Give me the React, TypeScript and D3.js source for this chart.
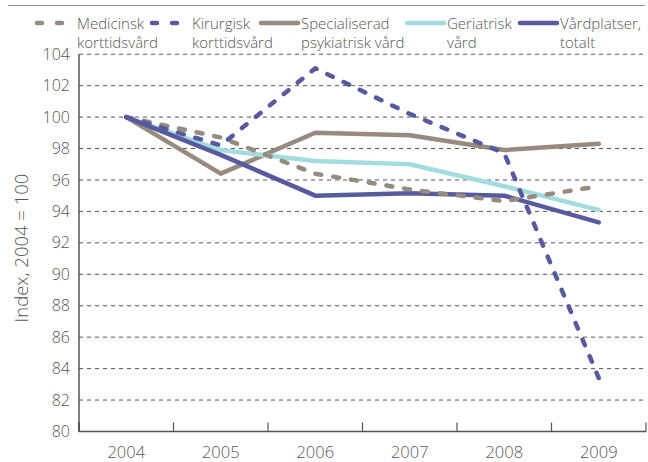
import React from "react";
import * as d3 from "d3";

const years = ["2004", "2005", "2006", "2007", "2008", "2009"];
const yTicks = [80, 82, 84, 86, 88, 90, 92, 94, 96, 98, 100, 102, 104];

const medicinsk = [100, 98.7, 96.4, 95.4, 94.65, 95.6];
const kirurgisk = [100, 98.2, 103.1, 100.2, 97.7, 83.4];
const specialiserad = [100, 96.4, 99.0, 98.85, 97.9, 98.3];
const geriatrisk = [100, 97.9, 97.2, 97.0, 95.6, 94.1];
const vardplatser = [100, 97.6, 95.0, 95.15, 95.0, 93.3];

const legendLabels = [
  ["Medicinsk", "korttidsvård"],
  ["Kirurgisk", "korttidsvård"],
  ["Specialiserad", "psykiatrisk vård"],
  ["Geriatrisk", "vård"],
  ["Vårdplatser,", "totalt"],
];

const GRAY = "#978a7e";
const BLUE = "#585a9e";
const CYAN = "#a2dcdf";
const TEXT = "#555555";
const FONT = "'Open Sans', Lato, sans-serif";

type Series = { name: string; values: number[]; color: string; dashed: boolean };

const series: Series[] = [
  { name: "Medicinsk korttidsvård", values: medicinsk, color: GRAY, dashed: true },
  { name: "Kirurgisk korttidsvård", values: kirurgisk, color: BLUE, dashed: true },
  { name: "Specialiserad psykiatrisk vård", values: specialiserad, color: GRAY, dashed: false },
  { name: "Geriatrisk vård", values: geriatrisk, color: CYAN, dashed: false },
  { name: "Vårdplatser, totalt", values: vardplatser, color: BLUE, dashed: false },
];

const drawOrder = [2, 3, 4, 0, 1];
const legendX = [35, 150, 259, 405, 518];

export default function App() {
  const left = 79;
  const right = 646;
  const top = 54.2;
  const bottom = 431.5;

  const x = d3.scaleBand<string>().domain(years).range([left, right]);
  const y = d3.scaleLinear().domain([80, 104]).range([bottom, top]);
  const line = d3
    .line<number>()
    .x((_, i) => (x(years[i]) as number) + x.bandwidth() / 2)
    .y((d) => y(d));

  const boundaries = years.map((yr) => (x(yr) as number) + x.bandwidth());

  return (
    <svg
      width={648}
      height={462}
      style={{ position: "absolute", left: 0, top: 0, background: "#fff" }}
      fontFamily={FONT}
    >
      <line x1={8} x2={645} y1={5.5} y2={5.5} stroke="#9a8b80" strokeWidth={1.2} />

      {/* legend */}
      {series.map((s, i) => (
        <g key={s.name}>
          <line
            x1={legendX[i] + 2}
            x2={legendX[i] + 39}
            y1={23}
            y2={23}
            stroke={s.color}
            strokeWidth={4.5}
            strokeLinecap="round"
            strokeDasharray={s.dashed ? "5,15" : undefined}
          />
          <text x={legendX[i] + 42} y={28.5} fontSize={15} fill={TEXT} fontWeight={300}>
            {legendLabels[i][0]}
          </text>
          <text x={legendX[i] + 42} y={48} fontSize={15} fill={TEXT} fontWeight={300}>
            {legendLabels[i][1]}
          </text>
        </g>
      ))}

      {/* grid */}
      {yTicks
        .filter((t) => t !== 80)
        .map((t) => (
          <line
            key={t}
            x1={left}
            x2={right}
            y1={y(t)}
            y2={y(t)}
            stroke="#555"
            strokeWidth={1}
            strokeDasharray="4,4"
          />
        ))}

      {/* y labels */}
      {yTicks.map((t) => (
        <text
          key={t}
          x={70}
          y={y(t)}
          dy="0.35em"
          textAnchor="end"
          fontSize={16}
          fill={TEXT}
          fontWeight={300}
        >
          {t}
        </text>
      ))}

      {/* axes */}
      <line x1={left} x2={left} y1={top} y2={bottom} stroke="#555" strokeWidth={1.5} />
      <line x1={left} x2={right} y1={bottom} y2={bottom} stroke="#555" strokeWidth={1.5} />
      <line x1={left} x2={left} y1={bottom - 9} y2={bottom} stroke="#555" strokeWidth={2} />
      {boundaries.map((b, i) => (
        <line key={i} x1={b} x2={b} y1={bottom - 9} y2={bottom} stroke="#555" strokeWidth={1.2} />
      ))}

      {/* x labels */}
      {years.map((yr) => (
        <text
          key={yr}
          x={(x(yr) as number) + x.bandwidth() / 2}
          y={458}
          textAnchor="middle"
          fontSize={16.5}
          fill={TEXT}
          fontWeight={300}
        >
          {yr}
        </text>
      ))}

      <text
        transform={`translate(28,248) rotate(-90)`}
        textAnchor="middle"
        fontSize={18.5}
        fill={TEXT}
        fontWeight={300}
      >
        Index, 2004 = 100
      </text>

      {/* series */}
      {drawOrder.map((idx) => {
        const s = series[idx];
        return (
          <path
            key={s.name}
            d={line(s.values) || ""}
            fill="none"
            stroke={s.color}
            strokeWidth={4.5}
            strokeLinejoin="round"
            strokeLinecap="round"
            strokeDasharray={s.dashed ? "6,12" : undefined}
          />
        );
      })}
    </svg>
  );
}
